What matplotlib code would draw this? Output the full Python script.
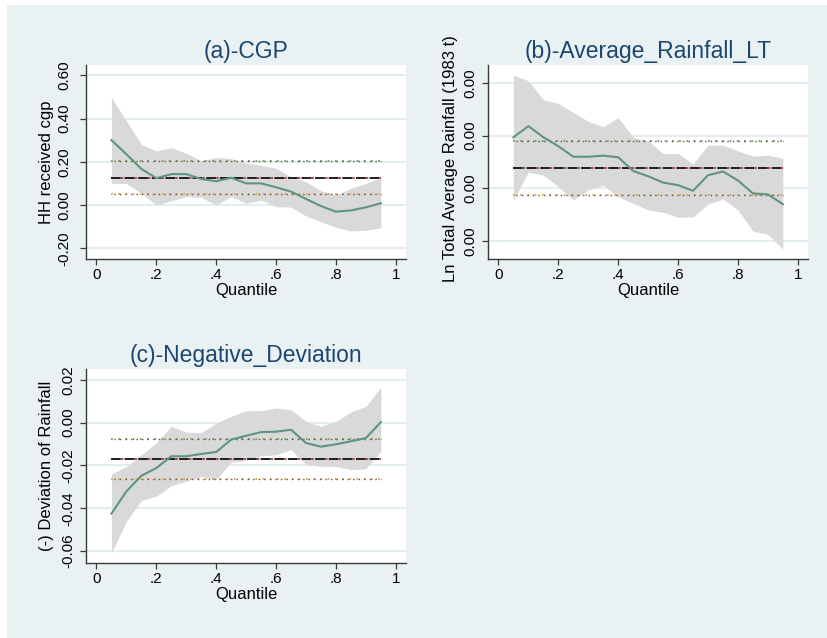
import matplotlib
matplotlib.use("Agg")
import matplotlib.pyplot as plt
from matplotlib.patches import Rectangle

plt.rcParams['font.family'] = ['Liberation Sans', 'DejaVu Sans']

# ---------------- data ----------------
quantiles = [0.05, 0.10, 0.15, 0.20, 0.25, 0.30, 0.35, 0.40, 0.45, 0.50,
             0.55, 0.60, 0.65, 0.70, 0.75, 0.80, 0.85, 0.90, 0.95]

# (a) CGP
cgp_coef = [0.300, 0.235, 0.167, 0.124, 0.143, 0.143, 0.120, 0.110, 0.126, 0.100,
            0.100, 0.082, 0.062, 0.028, -0.005, -0.031, -0.025, -0.011, 0.008]
cgp_upper = [0.497, 0.390, 0.280, 0.250, 0.265, 0.240, 0.204, 0.220, 0.215, 0.193,
             0.184, 0.170, 0.131, 0.108, 0.066, 0.046, 0.077, 0.100, 0.126]
cgp_lower = [0.100, 0.100, 0.054, 0.000, 0.019, 0.039, 0.035, 0.000, 0.039, 0.008,
             0.023, -0.008, -0.010, -0.051, -0.077, -0.103, -0.120, -0.117, -0.105]
cgp_ols = [0.126, 0.052, 0.202]   # coefficient, lower, upper

# (b) Average rainfall LT
rain_coef = [0.00197, 0.00218, 0.00197, 0.00180, 0.00160, 0.00160, 0.00162, 0.00159,
             0.00133, 0.00123, 0.00111, 0.00106, 0.000955, 0.00125, 0.00132, 0.00115,
             0.000905, 0.000885, 0.00070]
rain_upper = [0.00315, 0.00304, 0.00268, 0.00261, 0.00244, 0.00227, 0.00217, 0.00234,
              0.00197, 0.00190, 0.00166, 0.00166, 0.00146, 0.00182, 0.00182, 0.00171,
              0.00161, 0.00163, 0.00157]
rain_lower = [0.00078, 0.00131, 0.00125, 0.00103, 0.00078, 0.00097, 0.00106, 0.00084,
              0.000715, 0.00059, 0.000545, 0.00045, 0.00046, 0.00070, 0.00080, 0.00059,
              0.00019, 0.00013, -0.00015]
rain_ols = [0.001386, 0.000867, 0.00190]

# (c) Negative deviation
dev_coef = [-0.0425, -0.0321, -0.0248, -0.0212, -0.0157, -0.0157, -0.0146, -0.0137,
            -0.0079, -0.0061, -0.0044, -0.0042, -0.0033, -0.0095, -0.0112, -0.0101,
            -0.0087, -0.0072, 0.0003]
dev_upper = [-0.0240, -0.0204, -0.0150, -0.0095, -0.0017, -0.0044, -0.0047, -0.0002,
             0.0030, 0.0056, 0.0056, 0.0069, 0.0061, 0.0006, -0.0017, 0.0006,
             0.0050, 0.0076, 0.0167]
dev_lower = [-0.0609, -0.0461, -0.0363, -0.0344, -0.0294, -0.0274, -0.0251, -0.0266,
             -0.0185, -0.0176, -0.0154, -0.0151, -0.0126, -0.0196, -0.0204, -0.0204,
             -0.0220, -0.0215, -0.0134]
dev_ols = [-0.0170, -0.0262, -0.0076]

xticks = [0, 0.2, 0.4, 0.6, 0.8, 1.0]
xticklabels = ['0', '.2', '.4', '.6', '.8', '1']

titles = ['(a)-CGP', '(b)-Average_Rainfall_LT', '(c)-Negative_Deviation']
ylabels = ['HH received cgp', 'Ln Total Average Rainfall (1983 t)', '(-) Deviation of Rainfall']
xlabel = 'Quantile'

a_yticks = [-0.2, 0.0, 0.2, 0.4, 0.6]
a_yticklabels = ['-0.20', '0.00', '0.20', '0.40', '0.60']
b_yticks = [0.000, 0.001, 0.002, 0.003]
b_yticklabels = ['0.00', '0.00', '0.00', '0.00']
c_yticks = [-0.06, -0.04, -0.02, 0.00, 0.02]
c_yticklabels = ['-0.06', '-0.04', '-0.02', '0.00', '0.02']

# ---------------- style ----------------
W, H = 828, 638
BG = '#EAF1F3'
GRID = '#E4EEF1'
LINE = '#5E9480'
BAND = '#D9D9D9'
TITLE = '#1A476F'

fig = plt.figure(figsize=(W / 100, H / 100), dpi=100, facecolor='white')
fig.patches.append(Rectangle((7 / W, 0), 1, (H - 5) / H, transform=fig.transFigure,
                             facecolor=BG, edgecolor='none', zorder=-10))


def px_axes(left, top, right, bottom):
    return fig.add_axes([left / W, (H - bottom) / H, (right - left) / W, (bottom - top) / H])


def draw(ax, coef, upper, lower, ols, ylim, yticks, yticklabels, title, ylabel, ypad,
         ylabel_x, ylabel_y=0.5):
    ax.set_facecolor('white')
    ax.fill_between(quantiles, lower, upper, color=BAND, lw=0, zorder=2)
    ax.plot(quantiles, coef, color=LINE, lw=1.5, zorder=5)
    x0, x1 = quantiles[0], quantiles[-1]
    # OLS coefficient: long dashes (black) with red dots in the gaps
    ax.plot([x0, x1], [ols[0], ols[0]], color='#B04040', lw=1.4,
            ls=(1.9, (1.2, 5.8)), zorder=4)
    ax.plot([x0, x1], [ols[0], ols[0]], color='#1E1E1E', lw=1.4,
            ls=(0, (5, 2)), zorder=4)
    # OLS confidence interval: dotted lines
    ax.plot([x0, x1], [ols[2], ols[2]], color='#7C9A4E', lw=1.3,
            ls=(0, (1, 3)), zorder=4)
    ax.plot([x0, x1], [ols[2], ols[2]], color='#555555', lw=1.0,
            ls=(2, (1, 3)), zorder=4)
    ax.plot([x0, x1], [ols[1], ols[1]], color='#F0A035', lw=1.3,
            ls=(0, (1, 3)), zorder=4)
    ax.plot([x0, x1], [ols[1], ols[1]], color='#555555', lw=1.0,
            ls=(2, (1, 3)), zorder=4)

    ax.set_xlim(-0.035, 1.034)
    ax.set_ylim(*ylim)
    ax.set_xticks(xticks)
    ax.set_xticklabels(xticklabels)
    ax.set_yticks(yticks)
    ax.set_yticklabels(yticklabels, rotation=90, va='center')
    ax.yaxis.grid(True, color=GRID, lw=1.5, zorder=1)
    ax.set_axisbelow(True)
    for s in ('top', 'right'):
        ax.spines[s].set_visible(False)
    for s in ('left', 'bottom'):
        ax.spines[s].set_color('#3A3A3A')
        ax.spines[s].set_linewidth(1.0)
    ax.tick_params(axis='both', direction='out', length=4.3, width=0.9,
                   color='#3A3A3A', labelsize=11)
    ax.tick_params(axis='x', pad=2)
    ax.tick_params(axis='y', pad=ypad)
    ax.set_title(title, color=TITLE, fontsize=16.5, pad=5)
    ax.set_xlabel(xlabel, fontsize=12, labelpad=1)
    ax.set_ylabel(ylabel, fontsize=12)
    ax.yaxis.set_label_coords(ylabel_x, ylabel_y)


ax_a = px_axes(86, 65, 406, 259)
draw(ax_a, cgp_coef, cgp_upper, cgp_lower, cgp_ols, (-0.25, 0.648),
     a_yticks, a_yticklabels, titles[0], ylabels[0], 6.5, -0.100)

ax_b = px_axes(488, 65, 808, 259)
draw(ax_b, rain_coef, rain_upper, rain_lower, rain_ols, (-0.00034, 0.00334),
     b_yticks, b_yticklabels, titles[1], ylabels[1], 3, -0.094, 0.52)

ax_c = px_axes(86, 369, 406, 563)
draw(ax_c, dev_coef, dev_upper, dev_lower, dev_ols, (-0.0656, 0.0251),
     c_yticks, c_yticklabels, titles[2], ylabels[2], 3.6, -0.100)

fig.savefig('out.png', dpi=100, facecolor=fig.get_facecolor())
